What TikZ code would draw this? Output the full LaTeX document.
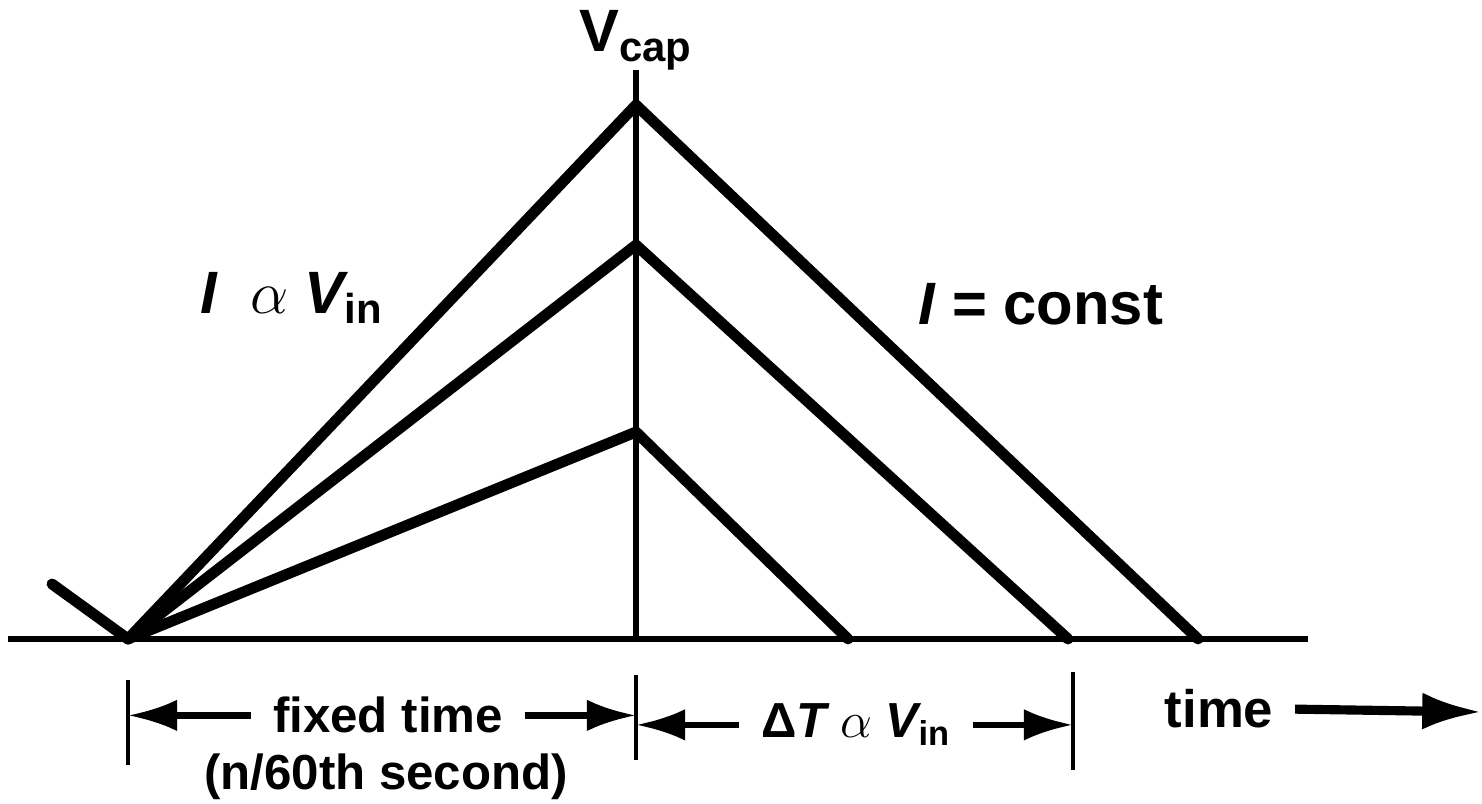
\documentclass[tikz,border=0pt]{standalone}
\usepackage{fontspec}
\setmainfont{Liberation Sans}
\usetikzlibrary{positioning, arrows.meta}

\begin{document}
\begin{tikzpicture}[
    x=0.01cm, y=-0.01cm,
    big label/.style={font=\fontsize{17}{20}\selectfont\bfseries, inner sep=0pt},
    dim label/.style={font=\fontsize{14}{17}\selectfont\bfseries, inner ysep=0pt, inner xsep=6pt},
    ramp line/.style={line width=3.1pt, line cap=round},
    axis line/.style={line width=1.5pt},
    tick line/.style={line width=1.3pt},
    dim arrow/.style={-{Latex[length=14pt, width=9pt]}, line width=1.8pt},
    time arrow/.style={-{Latex[length=17pt, width=10.5pt]}, line width=2.6pt}
]
    \useasboundingbox (0,0) rectangle (1482,804);

    % Points
    \coordinate (o) at (128,639);
    \coordinate (stub) at (52,584);
    \coordinate (pa) at (636,105);
    \coordinate (pb) at (636,245);
    \coordinate (pc) at (636,432);
    \coordinate (ea) at (1198,639);
    \coordinate (eb) at (1068,639);
    \coordinate (ec) at (848,639);
    \coordinate (ax0) at (8,639);
    \coordinate (ax1) at (1308,639);
    \coordinate (vtop) at (636,70);
    \coordinate (vbot) at (636,639);

    % Tick marks
    \coordinate (ta0) at (128,680);  \coordinate (ta1) at (128,765);
    \coordinate (tb0) at (636,675);  \coordinate (tb1) at (636,760);
    \coordinate (tc0) at (1073,672); \coordinate (tc1) at (1073,770);
    \coordinate (tend) at (1482,712);

    % Labels
    \node[big label, anchor=base] (vcap) at (636,52) {V\textsubscript{cap}};
    \node[big label, anchor=base] (iprop) at (292,314) {\itshape I\upshape\ \ $\alpha$ \itshape V\upshape\textsubscript{in}};
    \node[big label, anchor=base] (iconst) at (1041,325) {\itshape I\upshape\ = const};
    \node[dim label, anchor=base] (fixed) at (388,733) {fixed time};
    \node[dim label, anchor=base, inner xsep=0pt] (nsec) at (386,790) {(n/60th second)};
    \node[dim label, anchor=base] (dt) at (856,738) {Δ\itshape T\upshape\ $\alpha$ \itshape V\upshape\textsubscript{in}};
    \node[dim label, anchor=base, font=\fontsize{15}{18}\selectfont\bfseries] (tm) at (1219,728) {time};

    % Axes
    \draw[axis line] (ax0) -- (ax1);
    \draw[axis line] (vtop) -- (vbot);

    % Ramps
    \draw[ramp line] (stub) -- (o);
    \draw[ramp line] (o) -- (pa) -- (ea);
    \draw[ramp line] (o) -- (pb) -- (eb);
    \draw[ramp line] (o) -- (pc) -- (ec);

    % Dimension arrows
    \draw[tick line] (ta0) -- (ta1);
    \draw[tick line] (tb0) -- (tb1);
    \draw[tick line] (tc0) -- (tc1);
    \draw[dim arrow] (fixed.west) -- (fixed.west -| ta0);
    \draw[dim arrow] (fixed.east) -- (fixed.east -| tb0);
    \draw[dim arrow] (dt.west) -- (dt.west -| tb0);
    \draw[dim arrow] (dt.east) -- (dt.east -| tc0);
    \draw[time arrow] (tm.east) -- (tend);

\end{tikzpicture}
\end{document}
